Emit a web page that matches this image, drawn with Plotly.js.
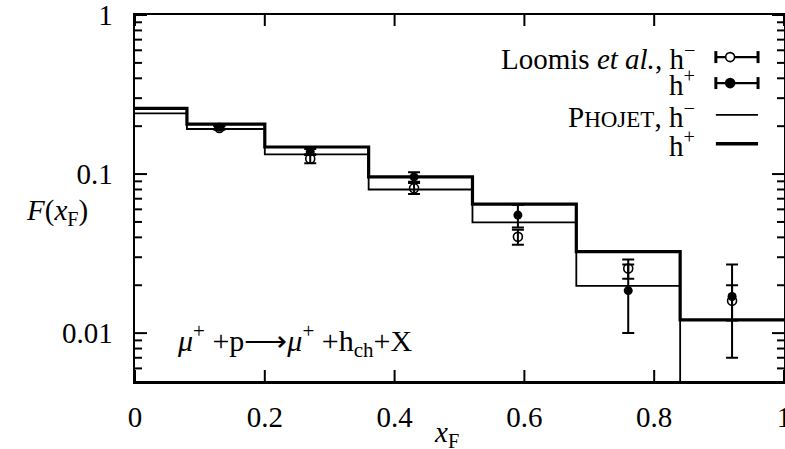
<!DOCTYPE html>
<html>
<head>
<meta charset="utf-8">
<script src="https://cdn.plot.ly/plotly-3.0.1.min.js"></script>
<style>html,body{margin:0;padding:0;background:#fff;}#chart{width:785px;height:449px;}</style>
</head>
<body>
<div id="chart"></div>
<script>
// PHOJET histogram bin edges and contents
const binEdges = [0, 0.08, 0.2, 0.36, 0.52, 0.68, 0.84, 1.0];
const phojetHminus = [0.241, 0.192, 0.133, 0.080, 0.0497, 0.0198, 0.001]; // last bin below axis range
const phojetHplus  = [0.259, 0.206, 0.148, 0.096, 0.0648, 0.0325, 0.0121];

// Loomis et al. data points
const loomisX = [0.13, 0.27, 0.43, 0.59, 0.76, 0.92];
const loomisHminus    = [0.195, 0.125, 0.0815, 0.0403, 0.0255, 0.0160];
const loomisHminusErr = [0.005, 0.008, 0.0065, 0.0044, 0.0035, 0.004];
const loomisHplus     = [0.197, 0.138, 0.096, 0.0552, 0.0185, 0.0170];
const loomisHplusErr  = [0.005, 0.006, 0.0065, 0.009, 0.0085, 0.0100];

// Tick labels
const xTickVals = [0, 0.2, 0.4, 0.6, 0.8, 1];
const xTickText = ['0', '0.2', '0.4', '0.6', '0.8', '1'];
const yTickVals = [0.01, 0.1, 1];
const yTickText = ['0.01', '0.1', '1'];
const yMinorVals = [0.006, 0.007, 0.008, 0.009, 0.02, 0.03, 0.04, 0.05, 0.06, 0.07, 0.08, 0.09,
                    0.2, 0.3, 0.4, 0.5, 0.6, 0.7, 0.8, 0.9];

const FONT = 'Liberation Serif, Times New Roman, serif';
const xRange = [0, 1.00002];
const yRange = [Math.log10(0.005), 0.00005];

function stepY(vals) { return vals.concat([vals[vals.length - 1]]); }
// axis value -> paper fraction (used only for tick marks on the frame)
function xPaper(v) { return (v - xRange[0]) / (xRange[1] - xRange[0]); }
function yPaper(v) { return (Math.log10(v) - yRange[0]) / (yRange[1] - yRange[0]); }

const traces = [
  {x: binEdges, y: stepY(phojetHminus), mode: 'lines', line: {shape: 'hv', color: 'black', width: 1.8}, hoverinfo: 'skip'},
  {x: binEdges, y: stepY(phojetHplus), mode: 'lines', line: {shape: 'hv', color: 'black', width: 3.2}, hoverinfo: 'skip'},
  {x: loomisX, y: loomisHminus, mode: 'markers', cliponaxis: false,
   marker: {symbol: 'circle-open', size: 9, color: 'black', line: {width: 1.6, color: 'black'}},
   error_y: {type: 'data', array: loomisHminusErr, visible: true, color: 'black', thickness: 2, width: 6}},
  {x: loomisX, y: loomisHplus, mode: 'markers', cliponaxis: false,
   marker: {symbol: 'circle', size: 9, color: 'black'},
   error_y: {type: 'data', array: loomisHplusErr, visible: true, color: 'black', thickness: 2, width: 6}}
];

const shapes = [];
const annotations = [];

// frame tick marks (inside, on all four sides)
function yTick(v, len) {
  const p = yPaper(v);
  shapes.push({type: 'line', xref: 'paper', yref: 'paper', xsizemode: 'pixel', xanchor: 0, x0: 0, x1: len,
    y0: p, y1: p, line: {color: 'black', width: 2}});
  shapes.push({type: 'line', xref: 'paper', yref: 'paper', xsizemode: 'pixel', xanchor: 1, x0: -len, x1: 0,
    y0: p, y1: p, line: {color: 'black', width: 2}});
}
function xTick(v, len) {
  const p = xPaper(v);
  shapes.push({type: 'line', xref: 'paper', yref: 'paper', ysizemode: 'pixel', yanchor: 0, y0: 0, y1: len,
    x0: p, x1: p, line: {color: 'black', width: 2}});
  shapes.push({type: 'line', xref: 'paper', yref: 'paper', ysizemode: 'pixel', yanchor: 1, y0: -len, y1: 0,
    x0: p, x1: p, line: {color: 'black', width: 2}});
}
yMinorVals.forEach(v => yTick(v, 7));
yTickVals.forEach(v => yTick(v, 12));
xTickVals.forEach(v => xTick(v, 11));

// custom legend (gnuplot style: text on the left, sample on the right)
const legX0 = 0.895, legX1 = 0.960, legXc = 0.917, legTextX = 0.866;
const legRows = [0.885, 0.814, 0.727, 0.648];
const legLabels = [
  'Loomis <i>et al.</i>, h<sup>\u2212</sup>',
  'h<sup>+</sup>',
  'P<span style="font-size:23px">HOJET</span>, h<sup>\u2212</sup>',
  'h<sup>+</sup>'
];
legRows.forEach((y, i) => {
  annotations.push({xref: 'paper', yref: 'paper', x: legTextX, y: y, xanchor: 'right', yanchor: 'middle',
    text: legLabels[i], showarrow: false, font: {family: FONT, size: 29, color: 'black'}});
  const w = (i === 2) ? 1.8 : (i === 3 ? 3.5 : 2.4);
  shapes.push({type: 'line', xref: 'paper', yref: 'paper', x0: legX0, x1: legX1, y0: y, y1: y, line: {color: 'black', width: w}});
  if (i < 2) {
    [legX0, legX1].forEach(xc => {
      shapes.push({type: 'line', xref: 'paper', yref: 'paper', ysizemode: 'pixel', yanchor: y,
        x0: xc, x1: xc, y0: -6, y1: 6, line: {color: 'black', width: 3}});
    });
    shapes.push({type: 'circle', xref: 'paper', yref: 'paper', xsizemode: 'pixel', ysizemode: 'pixel',
      xanchor: legXc, yanchor: y, x0: -4.5, x1: 4.5, y0: -4.5, y1: 4.5,
      fillcolor: i === 0 ? 'white' : 'black', line: {color: 'black', width: 1.6}});
  }
});

annotations.push({xref: 'paper', yref: 'paper', x: -0.07, y: 0.462, xanchor: 'right', yanchor: 'middle',
  text: '<i>F</i>(<i>x</i><sub>F</sub>)', showarrow: false, font: {family: FONT, size: 29, color: 'black'}});
annotations.push({xref: 'paper', yref: 'paper', x: 0.48, y: -0.145, xanchor: 'center', yanchor: 'middle',
  text: '<i>x</i><sub>F</sub>', showarrow: false, font: {family: FONT, size: 29, color: 'black'}});
annotations.push({xref: 'paper', yref: 'paper', x: 0.062, y: 0.112, xanchor: 'left', yanchor: 'middle',
  text: '<i>\u03BC</i><sup>+</sup> +p\u27F6<i>\u03BC</i><sup>+</sup> +h<sub>ch</sub>+X', showarrow: false,
  font: {family: FONT, size: 30, color: 'black'}});

const layout = {
  width: 785, height: 449,
  margin: {l: 135, r: 1, t: 15, b: 68},
  paper_bgcolor: 'white', plot_bgcolor: 'white',
  showlegend: false,
  xaxis: {
    range: xRange, tickmode: 'array', tickvals: xTickVals, ticktext: xTickText,
    ticks: '', showline: true, linewidth: 2.5, linecolor: 'black', mirror: true,
    showgrid: false, zeroline: false, ticklabelstandoff: 9, ticklabeloverflow: 'allow',
    tickfont: {family: FONT, size: 29, color: 'black'}
  },
  yaxis: {
    type: 'log', range: yRange, tickmode: 'array', tickvals: yTickVals, ticktext: yTickText,
    ticks: '', showline: true, linewidth: 2.5, linecolor: 'black', mirror: true,
    showgrid: false, zeroline: false, ticklabelstandoff: 14, ticklabeloverflow: 'allow',
    tickfont: {family: FONT, size: 29, color: 'black'}
  },
  shapes: shapes,
  annotations: annotations
};

Plotly.newPlot('chart', traces, layout, {staticPlot: true, displayModeBar: false});
</script>
</body>
</html>
